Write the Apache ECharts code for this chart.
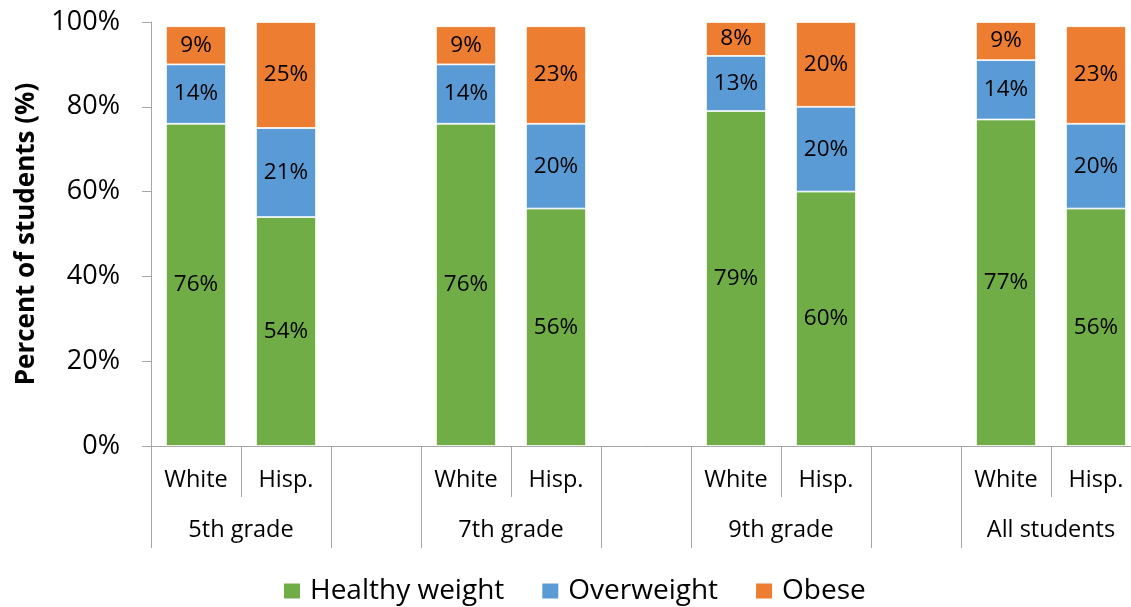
<!DOCTYPE html>
<html>
<head>
<meta charset="utf-8">
<script src="https://cdn.jsdelivr.net/npm/echarts@6/dist/echarts.min.js"></script>
<style>
  html, body { margin: 0; padding: 0; background: #fff; }
  #chart { width: 1131px; height: 607px; }
</style>
</head>
<body>
<div id="chart"></div>
<script>
// Race/ethnicity columns, with an empty slot between grade groups
const categories = ['White', 'Hisp.', '', 'White', 'Hisp.', '', 'White', 'Hisp.', '', 'White', 'Hisp.'];
const groupLabels = ['5th grade', '7th grade', '9th grade', 'All students'];
const seriesNames = ['Healthy weight', 'Overweight', 'Obese'];

// Percent of students in each weight class (null = spacer slot)
const healthy    = [76, 54, null, 76, 56, null, 79, 60, null, 77, 56];
const overweight = [14, 21, null, 14, 20, null, 13, 20, null, 14, 20];
const obese      = [ 9, 25, null,  9, 23, null,  8, 20, null,  9, 23];

const yTicks = [0, 20, 40, 60, 80, 100];

const colors = ['#70AD47', '#5B9BD5', '#ED7D31'];
const FONT = 'Open Sans';
const axisGray = '#A6A6A6';

// Group labels sit on slot boundaries (between White and Hisp.)
const groupLabelPos = [1, 4, 7, 10];
// Full-height separators around each group
const groupSeparators = [0, 2, 3, 5, 6, 8, 9, 11];

const chart = echarts.init(document.getElementById('chart'), null, { renderer: 'canvas' });

function barSeries(name, data, color) {
  return {
    name: name,
    type: 'bar',
    stack: 'total',
    data: data,
    barWidth: 60,
    itemStyle: { color: color, borderColor: '#ffffff', borderWidth: 0.8 },
    label: {
      show: true,
      position: 'inside',
      color: '#000',
      fontFamily: FONT,
      fontSize: 22.5,
      formatter: p => p.value == null ? '' : p.value + '%'
    }
  };
}

chart.setOption({
  animation: false,
  textStyle: { fontFamily: FONT },
  // the last slot runs slightly past the right edge of the canvas
  grid: { left: 151, width: 990, top: 22, bottom: 161, containLabel: false, outerBoundsMode: 'none' },
  legend: {
    data: seriesNames,
    top: 572,
    left: 277,
    icon: 'rect',
    itemWidth: 18,
    itemHeight: 17,
    itemGap: 36,
    textStyle: { fontFamily: FONT, fontSize: 28, color: '#000', padding: [0, 0, 0, 4] }
  },
  xAxis: [
    {
      type: 'category',
      data: categories,
      position: 'bottom',
      axisLine: { show: true, lineStyle: { color: axisGray, width: 1 } },
      axisTick: { show: true, interval: 0, length: 51, lineStyle: { color: axisGray } },
      axisLabel: { interval: 0, margin: 22, fontFamily: FONT, fontSize: 23.5, color: '#000' },
      splitLine: { show: false }
    },
    {
      type: 'value',
      min: 0,
      max: categories.length,
      interval: 1,
      position: 'bottom',
      axisLine: { show: false },
      axisTick: {
        show: true,
        length: 102,
        customValues: groupSeparators,
        lineStyle: { color: axisGray }
      },
      axisLabel: {
        show: true,
        margin: 72,
        customValues: groupLabelPos,
        fontFamily: FONT,
        fontSize: 23.5,
        color: '#000',
        formatter: v => {
          const i = groupLabelPos.indexOf(Math.round(v));
          return i >= 0 ? groupLabels[i] : '';
        }
      },
      splitLine: { show: false }
    }
  ],
  yAxis: {
    type: 'value',
    min: yTicks[0],
    max: yTicks[yTicks.length - 1],
    interval: 20,
    name: 'Percent of students (%)',
    nameLocation: 'middle',
    nameGap: 111,
    nameRotate: 90,
    nameTextStyle: { fontFamily: FONT, fontSize: 26, fontWeight: 'bold', color: '#000' },
    axisLine: { show: true, lineStyle: { color: axisGray } },
    axisTick: { show: true, length: 9, lineStyle: { color: axisGray } },
    axisLabel: { margin: 31, fontFamily: FONT, fontSize: 27, color: '#000', formatter: '{value}%' },
    splitLine: { show: false }
  },
  series: [
    barSeries(seriesNames[0], healthy, colors[0]),
    barSeries(seriesNames[1], overweight, colors[1]),
    barSeries(seriesNames[2], obese, colors[2])
  ]
});
</script>
</body>
</html>
